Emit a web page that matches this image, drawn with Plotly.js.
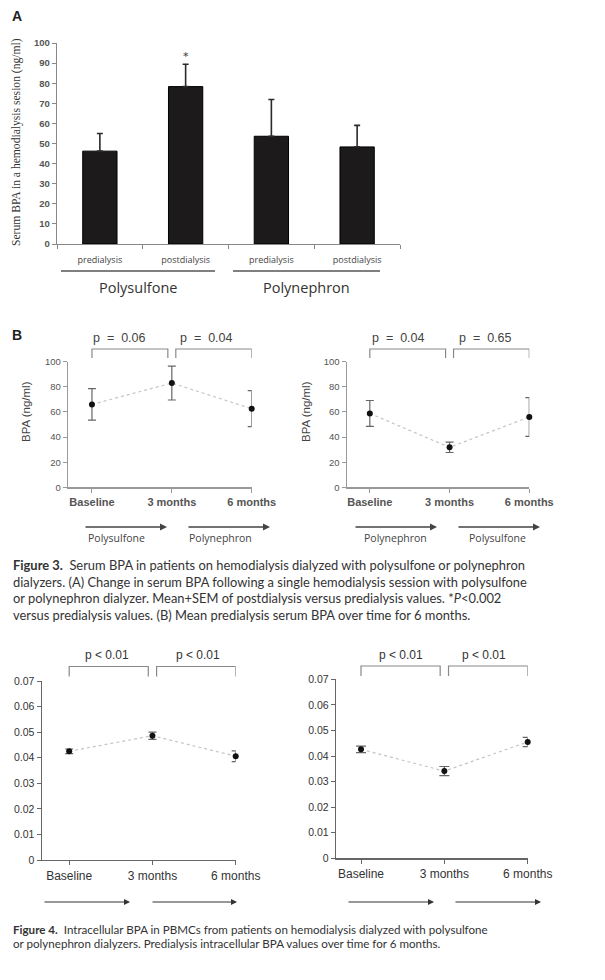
<!DOCTYPE html>
<html>
<head>
<meta charset="utf-8">
<script src="https://cdn.plot.ly/plotly-3.0.1.min.js"></script>
<style>
html,body{margin:0;padding:0;background:#fff;}
#chart{width:605px;height:980px;}
</style>
</head>
<body>
<div id="chart"></div>
<script>
// ---------- DATA ----------
const catsA = ['predialysis', 'postdialysis', 'predialysis', 'postdialysis'];
const groupsA = ['Polysulfone', 'Polynephron'];
const bpaA = [46.2, 78.3, 53.6, 48.3];
const semA = [8.8, 11.1, 18.3, 10.7];
const titleA = 'Serum BPA in a hemodialysis sesion (ng/ml)';

const timepoints = ['Baseline', '3 months', '6 months'];
const bpaB1 = [66, 83, 62.6];
const errB1 = [12.5, 13.5, 14.3];
const bpaB2 = [58.8, 31.8, 56.0];
const errB2 = [10.3, 4.1, 15.4];
const arrowsB1 = ['Polysulfone', 'Polynephron'];
const arrowsB2 = ['Polynephron', 'Polysulfone'];
const pB1 = ['p  =  0.06', 'p  =  0.04'];
const pB2 = ['p  =  0.04', 'p  =  0.65'];

const ic1 = [0.0425, 0.0486, 0.0406];
const icErr1 = [0.0009, 0.0014, 0.0021];
const ic2 = [0.0426, 0.0341, 0.0455];
const icErr2 = [0.0013, 0.0018, 0.0018];
const p4 = ['p < 0.01', 'p < 0.01'];

const caption3 = [
  '<b>Figure 3.</b>  Serum BPA in patients on hemodialysis dialyzed with polysulfone or polynephron',
  'dialyzers. (A) Change in serum BPA following a single hemodialysis session with polysulfone',
  'or polynephron dialyzer. Mean+SEM of postdialysis versus predialysis values. *<i>P</i><0.002',
  'versus predialysis values. (B) Mean predialysis serum BPA over time for 6 months.'
];
const caption4 = [
  '<b>Figure 4.</b>  Intracellular BPA in PBMCs from patients on hemodialysis dialyzed with polysulfone',
  'or polynephron dialyzers. Predialysis intracellular BPA values over time for 6 months.'
];

// ---------- HELPERS ----------
const W = 605, H = 980;
const X = px => px / W;
const Y = py => 1 - py / H;
const idx = a => a.map((_, i) => i);

const traces = [];
const annotations = [];
const shapes = [];

// ---------- PANEL A ----------
traces.push({
  type: 'bar', x: idx(catsA), y: bpaA, xaxis: 'x', yaxis: 'y',
  width: 0.4,
  marker: {color: '#1c1a1a', line: {color: '#000', width: 1}},
  error_y: {type: 'data', array: semA, arrayminus: semA.map(() => 0), symmetric: false,
            color: '#2a2a2a', thickness: 1.6, width: 3},
  hoverinfo: 'skip', showlegend: false
});

// ---------- LINE PANELS ----------
function linePanel(xa, ya, vals, errs, capw) {
  traces.push({
    type: 'scatter', mode: 'lines+markers', x: idx(timepoints), y: vals,
    xaxis: xa, yaxis: ya, cliponaxis: false,
    line: {color: '#c4c4c4', width: 1.2, dash: 'dot'},
    marker: {color: '#111', size: 6},
    error_y: {type: 'data', array: errs, color: '#666', thickness: 1.2, width: capw},
    hoverinfo: 'skip', showlegend: false
  });
}
linePanel('x2', 'y2', bpaB1, errB1, 4);
linePanel('x3', 'y3', bpaB2, errB2, 4);
linePanel('x4', 'y4', ic1, icErr1, 4);
linePanel('x5', 'y5', ic2, icErr2, 5);

function bracket(xa, labels, yTop, yBot, yText, txtOff, font) {
  const segs = [[0, 0.95], [1.05, 2]];
  segs.forEach((s, i) => {
    shapes.push({type: 'path', xref: xa, yref: 'paper',
      path: `M ${s[0]},${Y(yBot)} L ${s[0]},${Y(yTop)} L ${s[1]},${Y(yTop)} L ${s[1]},${Y(yBot)}`,
      line: {color: '#888', width: 1.2}});
    annotations.push({xref: xa, yref: 'paper', x: s[0] + txtOff[i], y: Y(yText),
      text: labels[i], showarrow: false, xanchor: 'center', yanchor: 'middle', font: font});
  });
}

const pFontB = {family: 'Liberation Sans, Arial, sans-serif', size: 12.5, color: '#444'};
const pFont4 = {family: 'Liberation Sans, Arial, sans-serif', size: 12, color: '#333'};
bracket('x2', pB1, 349, 358, 338, [0.35, 0.39], pFontB);
bracket('x3', pB2, 349, 358, 338, [0.36, 0.4], pFontB);
bracket('x4', p4, 666.5, 676.5, 655, [0.46, 0.5], pFont4);
bracket('x5', p4, 666, 676, 655, [0.48, 0.43], pFont4);

// ---------- AXES ----------
const gridOff = {showgrid: false, zeroline: false};
const layout = {
  width: W, height: H,
  margin: {l: 0, r: 0, t: 0, b: 0},
  paper_bgcolor: '#fff', plot_bgcolor: 'rgba(0,0,0,0)',
  showlegend: false,
  xaxis: Object.assign({}, gridOff, {
    domain: [X(57), X(400)], range: [-0.5, 3.5], anchor: 'y',
    tickmode: 'array', tickvals: idx(catsA), ticktext: catsA, ticks: '',
    ticklabelstandoff: 7,
    showline: true, linecolor: '#888', linewidth: 1.2,
    tickfont: {family: 'Open Sans, sans-serif', size: 9, color: '#444'},
    minor: {tickmode: 'array', tickvals: [-0.5, 0.5, 1.5, 2.5, 3.5], ticks: 'outside', ticklen: 4, tickcolor: '#888', tickwidth: 1},
    fixedrange: true
  }),
  yaxis: Object.assign({}, gridOff, {
    domain: [Y(244), Y(43)], range: [0, 100], anchor: 'x',
    tickmode: 'array', tickvals: [0,10,20,30,40,50,60,70,80,90,100],
    ticks: 'outside', ticklen: 4, tickcolor: '#888',
    showline: true, linecolor: '#888', linewidth: 1.2,
    tickfont: {family: 'Liberation Sans, Arial, sans-serif', size: 9.5, color: '#555', weight: 'bold'},
    fixedrange: true
  })
};

function lineAxes(n, x0, x1, xmin, ybot, ytop, yr, ytv, tickFont, catFont, lc) {
  layout['xaxis' + n] = Object.assign({}, gridOff, {
    domain: [X(x0), X(x1)], range: [xmin, 2], anchor: 'y' + n,
    tickmode: 'array', tickvals: idx(timepoints), ticktext: timepoints,
    ticks: 'outside', ticklen: 4, tickcolor: lc,
    showline: true, linecolor: lc, linewidth: 1.2,
    tickfont: catFont, fixedrange: true
  });
  layout['yaxis' + n] = Object.assign({}, gridOff, {
    domain: [Y(ybot), Y(ytop)], range: yr, anchor: 'x' + n,
    tickmode: 'array', tickvals: ytv,
    ticks: 'outside', ticklen: 4, tickcolor: lc,
    showline: true, linecolor: lc, linewidth: 1.2,
    tickfont: tickFont, fixedrange: true
  });
}
const tfB = {family: 'Liberation Sans, Arial, sans-serif', size: 9.5, color: '#555'};
const cfB = {family: 'Liberation Sans, Arial, sans-serif', size: 11, color: '#555', weight: 'bold'};
lineAxes(2, 68, 251.7, -0.3, 487.3, 361.7, [0, 100], [0,20,40,60,80,100], tfB, cfB, '#999');
lineAxes(3, 346.7, 529.3, -0.29, 487.3, 361.7, [0, 100], [0,20,40,60,80,100], tfB, cfB, '#999');
const tf4 = {family: 'Liberation Sans, Arial, sans-serif', size: 10.5, color: '#333'};
const cf4 = {family: 'Liberation Sans, Arial, sans-serif', size: 12, color: '#333'};
const t4 = [0, 0.01, 0.02, 0.03, 0.04, 0.05, 0.06, 0.07];
lineAxes(4, 41.7, 235.7, -0.33, 860, 681, [0, 0.07], t4, tf4, cf4, '#666');
lineAxes(5, 336, 527.7, -0.3, 858.3, 679.3, [0, 0.07], t4, tf4, cf4, '#666');
layout.yaxis4.ticktext = t4.map(v => v === 0 ? '0' : v.toFixed(2));
layout.yaxis5.ticktext = t4.map(v => v === 0 ? '0' : v.toFixed(2));

// ---------- TEXT / DECORATIONS ----------
const paperText = (x, y, text, font, extra) => annotations.push(Object.assign(
  {xref: 'paper', yref: 'paper', x: X(x), y: Y(y), text: text, showarrow: false,
   xanchor: 'left', yanchor: 'middle', font: font}, extra || {}));

paperText(10, 16, '<b>A</b>', {family: 'Liberation Sans, Arial, sans-serif', size: 14, color: '#222'});
paperText(10, 335, '<b>B</b>', {family: 'Liberation Sans, Arial, sans-serif', size: 14, color: '#222'});

// y titles
paperText(17, 142, titleA, {family: 'Liberation Serif, Times New Roman, serif', size: 11.6, color: '#333'},
  {textangle: -90, xanchor: 'center'});
paperText(26, 412, 'BPA (ng/ml)', {family: 'Liberation Sans, Arial, sans-serif', size: 11.5, color: '#444'},
  {textangle: -90, xanchor: 'center'});
paperText(306, 412, 'BPA (ng/ml)', {family: 'Liberation Sans, Arial, sans-serif', size: 11.5, color: '#444'},
  {textangle: -90, xanchor: 'center'});

// panel A group labels and underline
const groupFont = {family: 'Open Sans, sans-serif', size: 14.5, color: '#333'};
[[61, 215], [233, 380]].forEach((g, i) => {
  shapes.push({type: 'line', xref: 'paper', yref: 'paper', x0: X(g[0]), x1: X(g[1]), y0: Y(271), y1: Y(271),
    line: {color: '#555', width: 1.3}});
  paperText((g[0] + g[1]) / 2, 287, groupsA[i], groupFont, {xanchor: 'center'});
});
// significance star above postdialysis polysulfone bar
annotations.push({xref: 'x', yref: 'y', x: 1, y: bpaA[1] + semA[1], yshift: 8, text: '*',
  showarrow: false, font: {family: 'DejaVu Sans, sans-serif', size: 11, color: '#333'}});

// arrows
function arrow(x0, x1, y, color, w) {
  annotations.push({xref: 'paper', yref: 'paper', x: X(x1), y: Y(y), ax: X(x0), ay: Y(y),
    axref: 'paper', ayref: 'paper', text: '', showarrow: true,
    arrowhead: 2, arrowsize: 1, arrowwidth: w, arrowcolor: color});
}
const arrFont = {family: 'Open Sans, sans-serif', size: 10.5, color: '#444'};
arrow(84, 167, 527, '#444', 1.4); paperText(86, 538, arrowsB1[0], arrFont);
arrow(187, 270, 527, '#444', 1.4); paperText(187, 538, arrowsB1[1], arrFont);
arrow(354, 437, 527, '#444', 1.4); paperText(362, 538, arrowsB2[0], arrFont);
arrow(457, 540, 527, '#444', 1.4); paperText(467, 538, arrowsB2[1], arrFont);

arrow(43, 130, 902, '#333', 1.2);
arrow(151, 237, 902, '#333', 1.2);
arrow(347, 434, 902, '#333', 1.2);
arrow(454, 541, 902, '#333', 1.2);

// captions
const capFont3 = {family: 'Lato, Open Sans, sans-serif', size: 12.9, color: '#333'};
const capFont4 = {family: 'Lato, Open Sans, sans-serif', size: 11.6, color: '#333'};
caption3.forEach((t, i) => paperText(11, 565 + i * 16.6, t, capFont3));
caption4.forEach((t, i) => paperText(11, 929 + i * 14.5, t, capFont4));

layout.annotations = annotations;
layout.shapes = shapes;

Plotly.newPlot('chart', traces, layout, {staticPlot: true, displayModeBar: false});
</script>
</body>
</html>
